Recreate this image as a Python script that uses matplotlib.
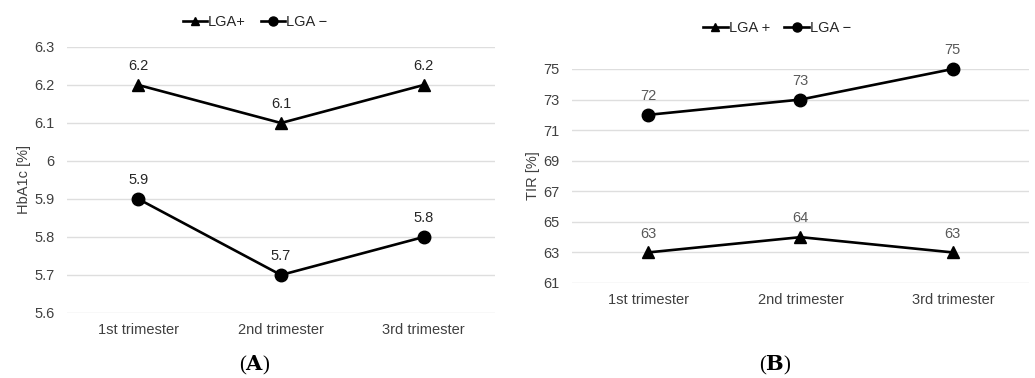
import matplotlib
matplotlib.use("Agg")
import matplotlib.pyplot as plt
from matplotlib.lines import Line2D

plt.rcParams['font.family'] = ['Liberation Sans', 'DejaVu Sans']

categories = ["1st trimester", "2nd trimester", "3rd trimester"]
hba1c_lga_pos = [6.2, 6.1, 6.2]
hba1c_lga_neg = [5.9, 5.7, 5.8]
tir_lga_pos = [63, 64, 63]
tir_lga_neg = [72, 73, 75]
hba1c_ticks = [5.6, 5.7, 5.8, 5.9, 6.0, 6.1, 6.2, 6.3]
hba1c_ticklabels = ["5.6", "5.7", "5.8", "5.9", "6", "6.1", "6.2", "6.3"]
tir_ticks = [61, 63, 65, 67, 69, 71, 73, 75]

W, H = 1035, 378
fig = plt.figure(figsize=(W / 100, H / 100), dpi=100)

def ax_rect(l, r, t, b):
    return [l / W, 1 - b / H, (r - l) / W, (b - t) / H]

axA = fig.add_axes(ax_rect(67, 495, 47, 313))
axB = fig.add_axes(ax_rect(572, 1029, 69, 283))

FS = 10.5
grid_color = "#dedede"

def style(ax, ticks, ticklabels, ylim):
    ax.set_xlim(-0.5, 2.5)
    ax.set_ylim(*ylim)
    ax.set_yticks(ticks)
    ax.set_yticklabels(ticklabels)
    ax.set_xticks(range(len(categories)))
    ax.set_xticklabels(categories)
    for s in ax.spines.values():
        s.set_visible(False)
    ax.tick_params(axis='both', length=0, labelsize=FS, labelcolor="#404040")
    ax.tick_params(axis='x', pad=7)
    ax.tick_params(axis='y', pad=9)
    ax.grid(axis='y', color=grid_color, linewidth=1)
    ax.set_axisbelow(True)

x = list(range(len(categories)))

def label_points(ax, vals, color):
    for xi, v in zip(x, vals):
        ax.annotate(f"{v:g}", (xi, v), xytext=(0, 13.5), textcoords='offset points',
                    ha='center', va='center', fontsize=FS, color=color)

# Panel A
style(axA, hba1c_ticks, hba1c_ticklabels, (5.6, 6.3))
axA.plot(x, hba1c_lga_pos, color='black', lw=1.9, marker='^', ms=8.5, clip_on=False)
axA.plot(x, hba1c_lga_neg, color='black', lw=1.9, marker='o', ms=9, clip_on=False)
label_points(axA, hba1c_lga_pos, '#262626')
label_points(axA, hba1c_lga_neg, '#262626')
axA.set_ylabel("HbA1c [%]", fontsize=FS, color='#404040', labelpad=2)
hA = [Line2D([], [], color='black', lw=1.9, marker='^', ms=6),
      Line2D([], [], color='black', lw=1.9, marker='o', ms=6.5)]
axA.legend(hA, ["LGA+", "LGA \u2212"], loc='center',
           bbox_to_anchor=((255 - 67) / 428, 1 + 25 / 266),
           ncol=2, frameon=False, fontsize=FS, handlelength=1.7, handletextpad=0.05,
           columnspacing=1.0, labelcolor='#262626')

# Panel B
style(axB, tir_ticks, [str(t) for t in tir_ticks], (61, 75))
axB.plot(x, tir_lga_pos, color='black', lw=1.9, marker='^', ms=8.5, clip_on=False)
axB.plot(x, tir_lga_neg, color='black', lw=1.9, marker='o', ms=9, clip_on=False)
label_points(axB, tir_lga_pos, '#595959')
label_points(axB, tir_lga_neg, '#595959')
axB.set_ylabel("TIR [%]", fontsize=FS, color='#404040', labelpad=2)
hB = [Line2D([], [], color='black', lw=1.9, marker='^', ms=6),
      Line2D([], [], color='black', lw=1.9, marker='o', ms=6.5)]
axB.legend(hB, ["LGA +", "LGA \u2212"], loc='center',
           bbox_to_anchor=((777 - 572) / 457, 1 + 41 / 214),
           ncol=2, frameon=False, fontsize=FS, handlelength=1.7, handletextpad=0.05,
           columnspacing=1.0, labelcolor='#262626')

# Panel letters
for cx, letter in [(255, "A"), (775, "B")]:
    t = fig.text(cx / W, 1 - 365 / H, "(" + r"$\mathbf{" + letter + "}$" + ")", fontsize=15,
                 family='Liberation Serif', ha='center', va='center')
    t.set_math_fontfamily('dejavuserif')

fig.savefig("out.png", dpi=100)
